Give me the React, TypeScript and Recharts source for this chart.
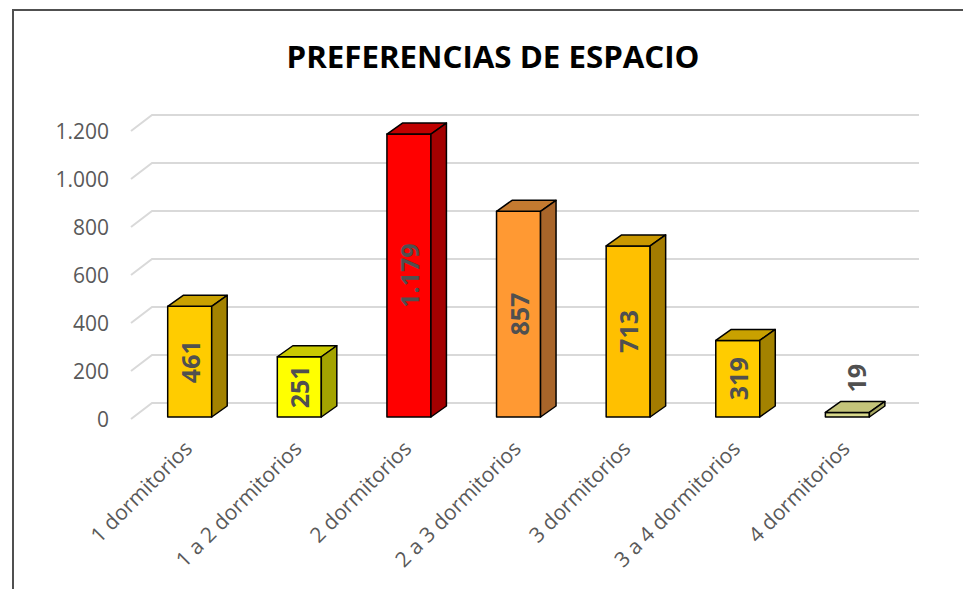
import React from "react";
import { BarChart, Bar, XAxis, YAxis, CartesianGrid, LabelList } from "recharts";

// chart values
const categories = [
  "1 dormitorios",
  "1 a 2 dormitorios",
  "2 dormitorios",
  "2 a 3 dormitorios",
  "3 dormitorios",
  "3 a 4 dormitorios",
  "4 dormitorios",
];
const votes = [461, 251, 1179, 857, 713, 319, 19];
const yTicks = [0, 200, 400, 600, 800, 1000, 1200];

// face colours of each 3D box (front / top / right side)
const FRONT = ["#FFCC00", "#FFFF00", "#FF0000", "#FF9933", "#FFC000", "#FFCC00", "#D9D98C"];
const TOP = ["#C9A100", "#C9C900", "#C00000", "#C47A30", "#C99700", "#C9A100", "#C4C47A"];
const SIDE = ["#A38200", "#A3A300", "#A30000", "#A8652A", "#A37B00", "#A38200", "#A6A660"];

const DX = 15.5; // depth offset of the boxes
const DY = 11;
const FONT = '"Open Sans", "Liberation Sans", sans-serif';
const GREY = "#595959";

const fmt = (v: number) => String(v).replace(/\B(?=(\d{3})+(?!\d))/g, ".");

const data = categories.map((name, i) => ({ name, value: votes[i] }));

const Box3D = (props: any) => {
  const { x, y, width: w, height: h, index } = props;
  return (
    <g stroke="#000" strokeWidth={1.5} strokeLinejoin="round">
      <rect x={x} y={y} width={w} height={h} fill={FRONT[index]} />
      <polygon
        points={`${x},${y} ${x + DX},${y - DY} ${x + w + DX},${y - DY} ${x + w},${y}`}
        fill={TOP[index]}
      />
      <polygon
        points={`${x + w},${y} ${x + w + DX},${y - DY} ${x + w + DX},${y + h - DY} ${x + w},${y + h}`}
        fill={SIDE[index]}
      />
    </g>
  );
};

const BarLabel = (props: any) => {
  const vb = props.viewBox ?? props;
  const { x, y, width: w, height: h } = vb;
  const txt = fmt(Number(props.value));
  // rough text length, bold 25px
  const len = txt.replace(".", "").length * 14.3 + (txt.includes(".") ? 7 : 0);
  let cx = x + w / 2;
  let cy = y + h / 2;
  if (len > h - 6) {
    // does not fit: put it above the box
    cx = x + w / 2 + 9;
    cy = y - DY - 9 - len / 2;
  }
  return (
    <text
      x={cx}
      y={cy}
      transform={`rotate(-90, ${cx}, ${cy})`}
      textAnchor="middle"
      dominantBaseline="central"
      fontFamily={FONT}
      fontWeight="bold"
      fontSize={25}
      fill="#505050"
    >
      {txt}
    </text>
  );
};

const YTick = ({ y, payload }: any) => (
  <text
    x={95}
    y={y + 2}
    textAnchor="end"
    dominantBaseline="central"
    fontFamily={FONT}
    fontSize={21}
    fill={GREY}
  >
    {fmt(payload.value)}
  </text>
);

const XTick = ({ x, payload }: any) => {
  const ax = x + 4;
  const ay = 439;
  return (
    <text
      x={ax}
      y={ay}
      transform={`rotate(-45, ${ax}, ${ay})`}
      textAnchor="end"
      fontFamily={FONT}
      fontSize={21}
      fill={GREY}
    >
      {payload.value}
    </text>
  );
};

// back-wall gridline with the floor edge on the left
const GridLine = (p: any) => {
  const { x1, x2, y1, key } = p;
  return (
    <path
      key={key}
      d={`M${x1 - 3.7},${y1 + 2} L${x1 + 17.3},${y1 - 14} L${x2 + 17},${y1 - 14}`}
      stroke="#D9D9D9"
      strokeWidth={2}
      fill="none"
    />
  );
};

export default function App() {
  return (
    <div
      style={{
        position: "absolute",
        left: 12,
        top: 9,
        width: 951,
        height: 580,
        boxSizing: "border-box",
        borderLeft: "2px solid #505050",
        borderTop: "2px solid #505050",
        background: "#fff",
      }}
    >
      <div style={{ position: "relative", width: 949, height: 578 }}>
        <BarChart
          width={949}
          height={578}
          data={data}
          margin={{ top: 118, right: 61, bottom: 142, left: 20.7 }}
        >
          <CartesianGrid vertical={false} horizontal={GridLine} />
          <XAxis
            dataKey="name"
            height={30}
            axisLine={false}
            tickLine={false}
            interval={0}
            tick={XTick}
          />
          <YAxis
            width={100}
            domain={[0, 1200]}
            ticks={yTicks}
            axisLine={false}
            tickLine={false}
            tick={YTick}
          />
          <Bar dataKey="value" barSize={44} isAnimationActive={false} shape={Box3D}>
            <LabelList dataKey="value" content={BarLabel} />
          </Bar>
        </BarChart>
        <svg
          width={949}
          height={80}
          style={{ position: "absolute", left: 0, top: 0, pointerEvents: "none" }}
        >
          <text
            x={479}
            y={57}
            textAnchor="middle"
            fontFamily={FONT}
            fontWeight="bold"
            fontSize={31}
            textLength={413}
            lengthAdjust="spacingAndGlyphs"
            fill="#000"
          >
            PREFERENCIAS DE ESPACIO
          </text>
        </svg>
      </div>
    </div>
  );
}
